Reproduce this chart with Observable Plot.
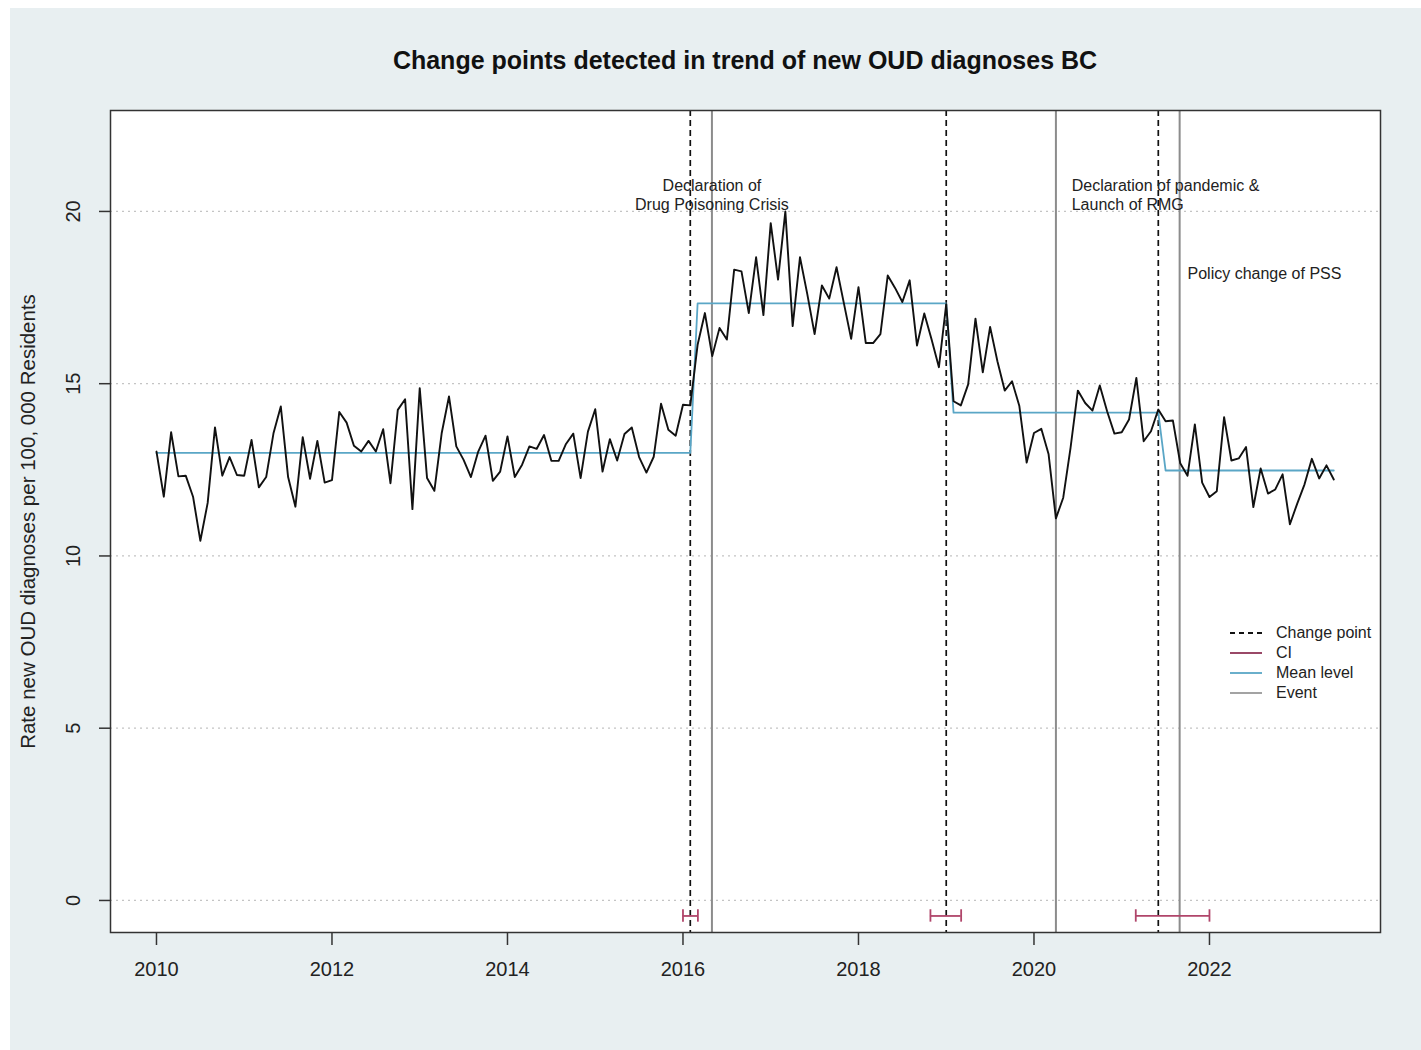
<!DOCTYPE html>
<html>
<head>
<meta charset="utf-8">
<script src="https://cdn.jsdelivr.net/npm/d3@7"></script>
<script src="https://cdn.jsdelivr.net/npm/@observablehq/plot@0.6"></script>
<style>
  html, body { margin: 0; padding: 0; background: #ffffff; }
  body { width: 1421px; height: 1050px; overflow: hidden; font-family: "Liberation Sans", Arial, sans-serif; }
  #wrap { position: absolute; left: 10px; top: 8px; width: 1411px; height: 1042px; background: #e8eff1; }
  #title { position: absolute; left: 100px; width: 1270px; top: 37px; height: 30px; line-height: 30px;
           text-align: center; font-weight: bold; font-size: 25px; color: #111; }
  #chart { position: absolute; left: 0; top: 82px; }
  #chart svg { background: transparent; }
  #legend { position: absolute; left: 1220px; top: 615px; font-size: 16px; color: #222; }
  #legend .row { display: flex; align-items: center; height: 20px; }
  #legend svg { width: 34px; height: 20px; margin-right: 12px; }
</style>
</head>
<body>
<div id="wrap">
  <div id="title"></div>
  <div id="chart"></div>
  <div id="legend"></div>
</div>
<script>
// ---------------- data ----------------
const titleText = "Change points detected in trend of new OUD diagnoses BC";
const yLabel = "Rate new OUD diagnoses per 100, 000 Residents";
const startYear = 2010; // first monthly observation: January 2010
const rates = [
  13.03, 11.72, 13.59, 12.31, 12.33, 11.72, 10.44, 11.54, 13.73, 12.33, 12.87, 12.35,
  12.33, 13.37, 11.99, 12.29, 13.56, 14.34, 12.29, 11.43, 13.45, 12.24, 13.34, 12.13,
  12.20, 14.18, 13.87, 13.20, 13.03, 13.34, 13.03, 13.68, 12.11, 14.24, 14.55, 11.36,
  14.87, 12.26, 11.89, 13.56, 14.63, 13.18, 12.79, 12.29, 13.03, 13.49, 12.18, 12.45,
  13.47, 12.29, 12.65, 13.18, 13.11, 13.51, 12.76, 12.76, 13.25, 13.55, 12.26, 13.61,
  14.26, 12.45, 13.39, 12.77, 13.54, 13.73, 12.87, 12.42, 12.88, 14.42, 13.66, 13.49,
  14.39, 14.37, 16.13, 17.05, 15.80, 16.62, 16.28, 18.31, 18.26, 17.05, 18.67, 16.99,
  19.66, 18.02, 20.00, 16.67, 18.67, 17.60, 16.44, 17.85, 17.47, 18.38, 17.34, 16.30,
  17.80, 16.18, 16.18, 16.44, 18.14, 17.78, 17.37, 18.00, 16.11, 17.04, 16.28, 15.48,
  17.31, 14.49, 14.37, 14.98, 16.89, 15.33, 16.65, 15.65, 14.80, 15.07, 14.35, 12.71,
  13.57, 13.69, 12.95, 11.09, 11.69, 13.14, 14.80, 14.44, 14.22, 14.95, 14.20, 13.55,
  13.59, 13.96, 15.17, 13.33, 13.62, 14.25, 13.91, 13.93, 12.69, 12.33, 13.82, 12.13,
  11.71, 11.88, 14.03, 12.77, 12.83, 13.16, 11.42, 12.54, 11.81, 11.93, 12.37, 10.92,
  11.52, 12.08, 12.82, 12.25, 12.63, 12.22
];
// mean level segments: index of first month of each segment and its level
const segmentStarts = [0, 74, 109, 138];
const segmentLevels = [12.99, 17.33, 14.16, 12.48];
// detected change points (month index) and their confidence intervals (years)
const changePointIdx = [73, 108, 137];
const ciLow  = [2016.00, 2018.82, 2021.16];
const ciHigh = [2016.17, 2019.17, 2022.00];
// events (years)
const eventYears = [2016.33, 2020.25, 2021.66];
const annotationText = ["Declaration of\nDrug Poisoning Crisis", "Declaration of pandemic &\nLaunch of RMG", "Policy change of PSS"];
const annotationX = [2016.33, 2020.43, 2021.75];
const annotationY = [20.50, 20.50, 18.23];
const annotationAnchor = ["middle", "start", "start"];
const xTicks = [2010, 2012, 2014, 2016, 2018, 2020, 2022];
const yTicks = [0, 5, 10, 15, 20];
const legendLabels = ["Change point", "CI", "Mean level", "Event"];

// ---------------- derived tables ----------------
const series = rates.map((v, i) => ({t: startYear + i / 12, v}));
const meanLine = rates.map((_, i) => {
  let s = 0;
  for (let k = 0; k < segmentStarts.length; k++) if (i >= segmentStarts[k]) s = k;
  return {t: startYear + i / 12, v: segmentLevels[s]};
});
const cps = changePointIdx.map(i => startYear + i / 12);
const ciRows = ciLow.map((lo, k) => ({lo, hi: ciHigh[k]}));
const ciEnds = ciLow.flatMap((lo, k) => [lo, ciHigh[k]]);
const annotations = annotationText.map((text, k) => ({text, x: annotationX[k], y: annotationY[k], a: annotationAnchor[k]}));

const ciY = -0.45, ciH = 0.18;
const meanColor = "#5aa6c6", ciColor = "#b0456a", eventColor = "#8c8c8c";

document.getElementById("title").textContent = titleText;

const annotationMarks = ["middle", "start"].map(anchor =>
  Plot.text(annotations.filter(d => d.a === anchor), {x: "x", y: "y", text: "text", textAnchor: anchor,
    lineAnchor: "middle", lineHeight: 1.19, fontSize: 16, fill: "#222"}));

const chart = Plot.plot({
  width: 1411,
  height: 940,
  marginLeft: 100,
  marginRight: 41,
  marginTop: 20,
  marginBottom: 98,
  style: {background: "transparent", fontFamily: "Liberation Sans, Arial, sans-serif", color: "#222"},
  x: {domain: [2009.476, 2023.949]},
  y: {domain: [-0.93, 22.93]},
  marks: [
    Plot.frame({fill: "white", stroke: null}),
    Plot.ruleY(yTicks, {stroke: "#c4c4c4", strokeWidth: 1.3, strokeDasharray: "2,4"}),
    Plot.ruleX(eventYears, {stroke: eventColor, strokeWidth: 2}),
    Plot.ruleX(cps, {stroke: "#111", strokeWidth: 1.7, strokeDasharray: "6,4"}),
    Plot.line(meanLine, {x: "t", y: "v", stroke: meanColor, strokeWidth: 1.8}),
    Plot.line(series, {x: "t", y: "v", stroke: "#111", strokeWidth: 1.9, strokeLinejoin: "round"}),
    Plot.ruleY(ciRows, {x1: "lo", x2: "hi", y: () => ciY, stroke: ciColor, strokeWidth: 1.8}),
    Plot.ruleX(ciEnds, {x: d => d, y1: () => ciY - ciH, y2: () => ciY + ciH, stroke: ciColor, strokeWidth: 1.8}),
    ...annotationMarks,
    Plot.frame({stroke: "#333", strokeWidth: 1.5}),
    Plot.axisX(xTicks, {tickSize: 13, tickPadding: 16, fontSize: 20, tickFormat: d => String(d), label: null, stroke: "#333", strokeWidth: 1.5}),
    Plot.axisY(yTicks, {tickSize: 11, tickFormat: () => "", label: null, stroke: "#333", strokeWidth: 1.5}),
    Plot.text(yTicks, {y: d => d, text: d => String(d), frameAnchor: "left", dx: -37, rotate: -90,
      textAnchor: "middle", lineAnchor: "middle", fontSize: 20, fill: "#222"}),
    Plot.text([yLabel], {text: d => d, frameAnchor: "left", dx: -82, rotate: -90,
      textAnchor: "middle", lineAnchor: "middle", fontSize: 20.5, fill: "#222"})
  ]
});
document.getElementById("chart").appendChild(chart);

// legend
const legendStyles = [
  {stroke: "#111", dash: "5,4"},
  {stroke: "#8f3456", dash: null},
  {stroke: meanColor, dash: null},
  {stroke: "#999", dash: null}
];
const legend = d3.select("#legend");
legendLabels.forEach((lab, k) => {
  const row = legend.append("div").attr("class", "row");
  const s = row.append("svg");
  s.append("line").attr("x1", 0).attr("x2", 32).attr("y1", 10).attr("y2", 10)
    .attr("stroke", legendStyles[k].stroke).attr("stroke-width", 1.8)
    .attr("stroke-dasharray", legendStyles[k].dash);
  row.append("span").text(lab);
});
</script>
</body>
</html>
